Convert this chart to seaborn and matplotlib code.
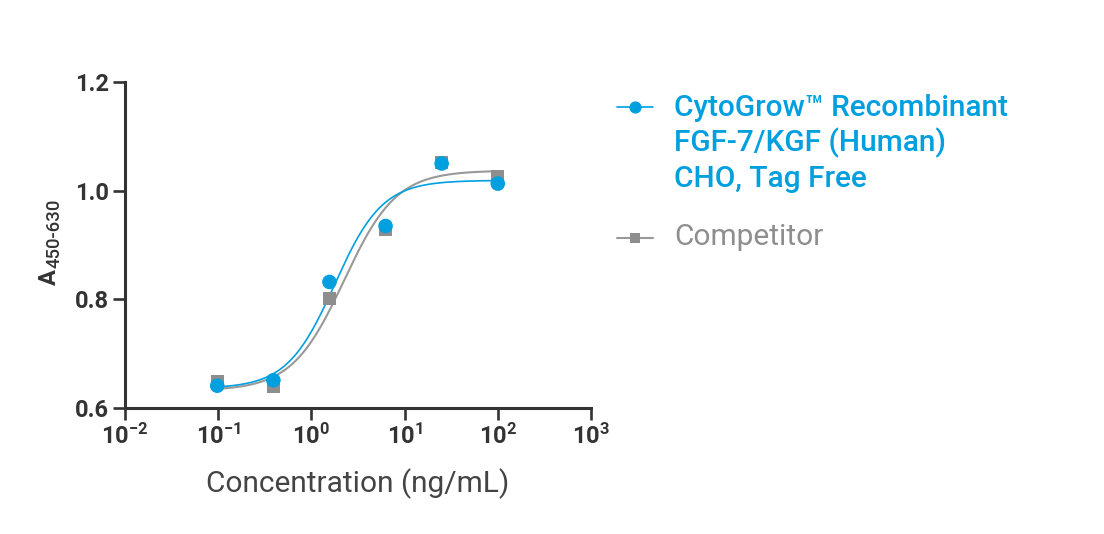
import matplotlib

matplotlib.use("Agg")

import matplotlib.pyplot as plt
import numpy as np
import pandas as pd
import seaborn as sns
from matplotlib.lines import Line2D
from matplotlib.ticker import FixedLocator, NullLocator, FormatStrFormatter


CONCENTRATION = [0.0977, 0.391, 1.5625, 6.25, 25, 100]
CYTOGROW_A450 = [0.641, 0.651, 0.832, 0.935, 1.050, 1.013]
COMPETITOR_A450 = [0.649, 0.639, 0.801, 0.929, 1.052, 1.027]

# 4PL fit: bottom, top, log10(EC50), hill slope
CYTOGROW_FIT = [0.636, 1.019, 0.25, 1.7]
COMPETITOR_FIT = [0.632, 1.037, 0.35, 1.55]

X_TICKS = [0.01, 0.1, 1, 10, 100, 1000]
Y_TICKS = [0.6, 0.8, 1.0, 1.2]

CYTOGROW_LABEL = ["CytoGrow\u2122 Recombinant", "FGF-7/KGF (Human)", "CHO, Tag Free"]
COMPETITOR_LABEL = "Competitor"

BLUE = "#009FDF"
GREY = "#8E8E8E"
GREY_LINE = "#999999"
DARK = "#333333"


def four_pl(x, bottom, top, log_ec50, hill):
    return bottom + (top - bottom) / (1 + (10 ** log_ec50 / x) ** hill)


def main() -> None:
    sns.set_theme(style="ticks")
    plt.rcParams["font.family"] = ["Roboto", "DejaVu Sans"]
    plt.rcParams["mathtext.fontset"] = "custom"
    plt.rcParams["mathtext.rm"] = "Roboto:bold"
    plt.rcParams["mathtext.bf"] = "Roboto:bold"

    fig = plt.figure(figsize=(11.04, 5.34), dpi=100)
    ax = fig.add_axes([0.1132, 0.2360, 0.4221, 0.6104])

    df = pd.DataFrame(
        {
            "conc": CONCENTRATION * 2,
            "a450": COMPETITOR_A450 + CYTOGROW_A450,
            "series": ["Competitor"] * len(CONCENTRATION) + ["CytoGrow"] * len(CONCENTRATION),
        }
    )

    xs = np.logspace(np.log10(min(CONCENTRATION)), np.log10(max(CONCENTRATION)), 300)
    sns.lineplot(x=xs, y=four_pl(xs, *COMPETITOR_FIT), color=GREY_LINE, linewidth=1.5, ax=ax)
    sns.lineplot(x=xs, y=four_pl(xs, *CYTOGROW_FIT), color=BLUE, linewidth=1.2, ax=ax)

    comp = df[df["series"] == "Competitor"]
    cyto = df[df["series"] == "CytoGrow"]
    sns.scatterplot(data=comp, x="conc", y="a450", marker="s", s=85, color=GREY,
                    edgecolor="none", ax=ax, zorder=3)
    sns.scatterplot(data=cyto, x="conc", y="a450", marker="o", s=110, color=BLUE,
                    edgecolor="none", ax=ax, zorder=4)

    ax.set_xscale("log")
    ax.set_xlim(0.01, 1000)
    ax.set_ylim(0.6, 1.2)
    ax.xaxis.set_major_locator(FixedLocator(X_TICKS))
    ax.xaxis.set_minor_locator(NullLocator())
    ax.yaxis.set_major_locator(FixedLocator(Y_TICKS))
    ax.yaxis.set_major_formatter(FormatStrFormatter("%.1f"))

    for side in ["top", "right"]:
        ax.spines[side].set_visible(False)
    for side in ["left", "bottom"]:
        ax.spines[side].set_linewidth(2.2)
        ax.spines[side].set_color(DARK)

    ax.tick_params(direction="out", length=8.5, width=1.9, color=DARK,
                   labelsize=17, labelcolor=DARK, pad=3)
    for lbl in ax.get_xticklabels() + ax.get_yticklabels():
        lbl.set_fontweight("bold")

    ax.set_xlabel("Concentration (ng/mL)", fontsize=21.5, color="#444444", labelpad=14)
    ax.set_ylabel("")

    # y label: "A" with a larger-than-mathtext subscript, as in the source
    fig.text(0.0507, 0.4663, "A", rotation=90, rotation_mode="anchor", ha="left",
             va="baseline", fontsize=17, fontweight="bold", color=DARK)
    fig.text(0.0537, 0.4981, "450-630", rotation=90, rotation_mode="anchor", ha="left",
             va="baseline", fontsize=13.3, fontweight="medium", color=DARK)

    # legend drawn by hand so the marker sits on the first text line
    fig.add_artist(Line2D([0.5589, 0.5915], [0.8002, 0.8002], transform=fig.transFigure,
                          color=BLUE, linewidth=1.2))
    fig.add_artist(Line2D([0.5752], [0.8002], transform=fig.transFigure, color=BLUE,
                          marker="o", markersize=8.8, markeredgewidth=0, linestyle="none"))
    fig.add_artist(Line2D([0.5589, 0.5915], [0.5549, 0.5549], transform=fig.transFigure,
                          color=GREY_LINE, linewidth=1.5))
    fig.add_artist(Line2D([0.5752], [0.5549], transform=fig.transFigure, color=GREY,
                          marker="s", markersize=7, markeredgewidth=0, linestyle="none"))
    for line, y in zip(CYTOGROW_LABEL, [0.7828, 0.7163, 0.6498]):
        fig.text(0.6105, y, line, fontsize=21.5, fontweight="medium", color=BLUE,
                 va="baseline", ha="left")
    fig.text(0.6105, 0.5412, COMPETITOR_LABEL, fontsize=21.5, color=GREY,
             va="baseline", ha="left")

    fig.savefig("out.png", dpi=100)
    plt.close(fig)


if __name__ == "__main__":
    main()
